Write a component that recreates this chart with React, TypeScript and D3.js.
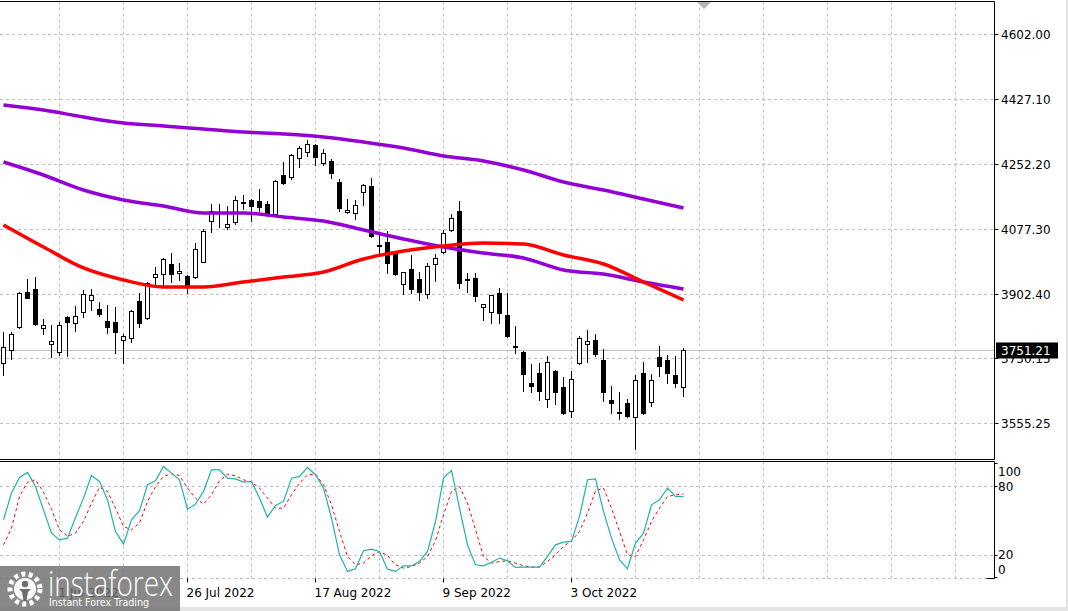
import React from "react";
import * as d3 from "d3";

const W = 1068;
const H = 611;

// ---- OHLC (daily bars, index 0..85) ----
const opens = [3717.5,3752.5,3814.4,3908.6,3916.7,3811.7,3768.7,3747.1,3841.3,3825.2,3854.8,3887.1,3862.9,3830.6,3827.9,3779.4,3784.8,3884.4,3838.6,3948.9,3957.0,3983.9,3959.7,3951.6,3948.9,3989.3,4099.6,4123.8,4083.4,4096.9,4148.0,4156.1,4153.4,4145.4,4118.4,4223.4,4218.0,4269.1,4285.3,4304.1,4255.7,4261.1,4204.5,4123.8,4121.1,4177.6,4193.8,4035.0,4043.1,4013.5,3930.1,3970.5,3943.6,3903.2,3983.9,4016.2,4075.4,4126.5,3943.6,3946.3,3868.2,3854.8,3905.9,3846.7,3763.3,3747.1,3663.7,3690.6,3620.6,3696.0,3652.9,3588.3,3717.5,3768.7,3779.4,3725.6,3617.9,3585.6,3609.9,3572.2,3690.6,3612.6,3733.6,3725.6,3685.2,3652.9];
const highs = [3800.9,3800.9,3908.6,3943.6,3948.9,3835.9,3819.8,3827.9,3843.0,3870.9,3914.0,3916.7,3881.7,3873.6,3868.2,3795.6,3860.2,3905.9,3935.5,3975.8,3999.0,4013.5,3986.6,3954.0,4040.4,4078.1,4145.4,4145.4,4140.0,4166.9,4169.6,4158.8,4185.7,4153.4,4209.9,4258.4,4279.9,4301.4,4317.6,4306.0,4293.4,4266.4,4212.6,4158.8,4156.1,4199.2,4215.3,4067.3,4072.7,4016.2,3962.4,4008.1,3962.4,3986.6,4010.8,4075.4,4118.4,4153.4,3959.7,3959.7,3876.3,3901.0,3919.4,3905.9,3817.1,3749.0,3714.8,3717.5,3736.3,3698.0,3679.8,3696.0,3790.2,3806.3,3795.6,3755.2,3655.6,3639.5,3620.6,3685.2,3720.2,3687.9,3763.3,3739.0,3736.3,3757.9];
const lows = [3685.2,3728.3,3811.7,3892.5,3819.8,3795.6,3733.6,3739.0,3736.3,3803.6,3841.3,3860.2,3844.0,3798.3,3744.4,3717.5,3774.0,3814.4,3835.9,3922.1,3922.1,3935.5,3940.9,3905.9,3946.0,3988.0,4070.0,4083.4,4078.1,4091.5,4131.9,4099.6,4126.5,4113.0,4115.8,4199.2,4212.6,4244.9,4274.5,4250.3,4250.3,4215.3,4126.5,4122.0,4105.0,4142.7,4056.6,4013.5,3959.7,3955.0,3903.2,3905.9,3887.1,3892.5,3938.2,4014.0,4072.7,3919.4,3908.6,3884.4,3833.2,3825.2,3825.2,3788.0,3744.4,3642.2,3639.5,3617.9,3599.1,3607.2,3581.0,3572.2,3714.8,3720.2,3736.3,3615.2,3583.0,3566.8,3572.2,3486.1,3580.3,3601.8,3682.5,3663.7,3652.9,3628.7];
const closes = [3760.6,3795.6,3905.9,3892.5,3822.5,3819.8,3776.7,3819.8,3827.9,3844.0,3903.2,3900.5,3849.4,3814.4,3800.9,3790.2,3857.5,3825.2,3932.8,3957.0,3997.4,3957.0,3965.1,3922.1,4024.3,4072.7,4126.5,4121.1,4091.5,4156.1,4150.7,4140.0,4137.3,4115.8,4207.2,4201.9,4277.2,4296.0,4306.8,4271.8,4282.6,4228.8,4134.6,4129.2,4142.7,4196.5,4059.3,4032.3,3986.6,3957.0,3962.4,3916.7,3908.6,3978.5,4000.1,4067.3,4107.7,3932.8,3940.9,3897.8,3876.3,3900.5,3852.1,3790.2,3760.6,3687.9,3655.6,3642.2,3720.2,3639.5,3583.0,3674.5,3784.8,3776.7,3741.7,3639.5,3609.9,3583.0,3574.9,3671.8,3582.0,3671.8,3709.4,3690.6,3663.7,3751.21];

// ---- Moving averages, sampled at these bar indices ----
const maBars = [0,5,10,15,20,25,30,35,40,45,50,55,60,65,70,75,80,85];
const maSlow = [4411.8,4398.3,4379.5,4363.3,4355.3,4347.2,4339.1,4333.7,4325.7,4312.2,4296.1,4274.5,4261.1,4236.9,4204.6,4183.0,4158.8,4134.6];
const maMid = [4258.4,4223.4,4183.0,4156.1,4140.0,4121.1,4121.1,4110.4,4099.6,4075.4,4051.2,4029.6,4013.5,4000.1,3967.8,3957.0,3935.5,3916.7];
const maFast = [4088.9,4029.6,3973.2,3940.9,3922.1,3922.1,3935.5,3948.9,3962.4,3997.4,4018.9,4032.3,4040.4,4037.7,4008.1,3983.9,3935.5,3887.1];

// ---- Stochastic ----
const stochK = [50.9,74.3,88.0,92.4,80.1,59.6,39.2,33.3,34.8,52.9,69.9,89.8,84.5,68.4,40.6,29.5,50.9,58.8,81.6,85.1,97.7,91.8,86.0,60.2,64.6,75.7,94.7,94.7,87.4,86.8,83.9,84.5,69.9,53.2,63.5,67.0,87.4,88.9,96.8,90.4,78.7,52.3,20.2,5.6,7.9,23.7,25.1,23.1,7.6,5.6,10.5,10.5,14.3,23.1,49.4,87.4,94.2,61.1,28.9,11.4,10.5,13.7,17.3,14.9,9.1,9.4,9.4,9.4,18.7,28.9,31.3,31.9,53.8,86.0,86.8,58.2,34.8,15.8,7.9,30.4,39.2,64.0,68.4,78.7,71.3,71.3];
const stochD = [28.9,43.6,71.3,83.9,86.0,75.1,60.2,42.1,36.3,39.2,49.4,65.5,79.5,75.7,61.1,45.0,42.1,48.0,67.0,80.1,88.9,91.2,89.8,78.7,69.9,64.6,72.8,85.1,90.9,89.5,86.0,83.9,78.7,69.9,61.1,61.1,72.8,83.0,90.4,90.9,81.6,64.0,40.6,18.7,11.4,12.9,19.3,23.1,19.6,11.4,8.5,9.9,12.9,18.7,32.5,55.3,75.7,80.1,65.5,42.1,18.7,12.9,14.3,14.9,12.9,10.5,9.4,9.4,14.3,20.2,27.5,32.5,40.6,56.7,76.3,78.7,61.1,40.6,20.2,18.7,33.3,49.4,61.1,71.3,72.8,73.4];

// ---- Axes ----
const priceTicks = [4602.0, 4427.1, 4252.2, 4077.3, 3902.4, 3730.15, 3555.25];
const stochLevels = [80, 20];
const stochLabels = [100, 80, 20, 0];
const dateTickBars = [7, 23, 39, 55, 71];
const dateTickLabels = ["1 Jul 2022", "26 Jul 2022", "17 Aug 2022", "9 Sep 2022", "3 Oct 2022"];
const lastPrice = 3751.21;

const PLOT_R = 994.5;
const MAIN_T = 1.5, MAIN_B = 459.5;
const ST_T = 461.5, ST_B = 578.5;
const FONT = "DejaVu Sans, Verdana, sans-serif";

export default function App() {
  const x = d3.scaleLinear().domain([0, 85]).range([3.5, 683.5]);
  const y = d3.scaleLinear().domain([4602, 3902.4]).range([34.3, 294.3]);
  const ys = d3.scaleLinear().domain([0, 100]).range([577.8, 463.8]);
  const snap = (v: number) => Math.floor(v) + 0.5;

  const gridBars = d3.range(7, 120, 8);

  const maLine = d3
    .line<number>()
    .x((_, i) => x(maBars[i]))
    .y((d) => y(d))
    .curve(d3.curveMonotoneX);

  const stLine = d3
    .line<number>()
    .x((_, i) => x(i))
    .y((d) => ys(d));

  const dash = "3,3";
  const gridColor = "#c0c0c0";

  return (
    <div style={{ position: "fixed", left: 0, top: 0, width: W, height: H, background: "#fff" }}>
      <svg width={W} height={H} style={{ display: "block" }} fontFamily={FONT}>
        <rect x={0} y={0} width={W} height={H} fill="#ffffff" />
        {/* outer window edges */}
        <rect x={1066} y={0} width={2} height={H} fill="#e3e3e3" />
        <rect x={0} y={607} width={W} height={4} fill="#e3e3e3" />

        {/* ---------- grid ---------- */}
        <g stroke={gridColor} strokeDasharray={dash} strokeWidth={1}>
          {priceTicks.map((t) => (
            <line key={"h" + t} x1={0} x2={PLOT_R} y1={snap(y(t))} y2={snap(y(t))} />
          ))}
          {gridBars.map((b) => (
            <line key={"v" + b} x1={x(b)} x2={x(b)} y1={MAIN_T} y2={MAIN_B} />
          ))}
          {stochLevels.map((l) => (
            <line key={"sh" + l} x1={0} x2={PLOT_R} y1={snap(ys(l))} y2={snap(ys(l))} />
          ))}
          {gridBars.map((b) => (
            <line key={"sv" + b} x1={x(b)} x2={x(b)} y1={ST_T} y2={ST_B} />
          ))}
          <line x1={0} x2={PLOT_R} y1={ST_B} y2={ST_B} />
        </g>

        {/* current price line */}
        <line x1={0} x2={PLOT_R} y1={snap(y(lastPrice))} y2={snap(y(lastPrice))} stroke="#c0c0c0" strokeWidth={1} />

        {/* shift marker */}
        <path d="M697,2 L711,2 L704,9 Z" fill="#b4b4b4" />

        {/* ---------- candles ---------- */}
        <g>
          {opens.map((o, i) => {
            const c = closes[i];
            const cx = x(i);
            const bull = c >= o;
            const top = y(Math.max(o, c));
            const bot = y(Math.min(o, c));
            const t = Math.round(top) + 0.5;
            const h = Math.max(0, Math.round(bot) - Math.round(top));
            return (
              <g key={"c" + i}>
                <line x1={cx} x2={cx} y1={Math.round(y(highs[i]))} y2={Math.round(y(lows[i])) + 1} stroke="#000" strokeWidth={1} />
                <rect x={cx - 2} y={t} width={4} height={h} fill={bull ? "#fff" : "#000"} stroke="#000" strokeWidth={1} />
              </g>
            );
          })}
        </g>

        {/* ---------- moving averages ---------- */}
        <path d={maLine(maSlow) || ""} fill="none" stroke="#9400D3" strokeWidth={3.5} />
        <path d={maLine(maMid) || ""} fill="none" stroke="#9400D3" strokeWidth={3.5} />
        <path d={maLine(maFast) || ""} fill="none" stroke="#ff0000" strokeWidth={3.5} />

        {/* ---------- stochastic ---------- */}
        <path d={stLine(stochD) || ""} fill="none" stroke="#ff0000" strokeWidth={1} strokeDasharray="3,3" />
        <path d={stLine(stochK) || ""} fill="none" stroke="#20b2aa" strokeWidth={1.2} />

        {/* ---------- frames (no left edge) ---------- */}
        <g stroke="#000" strokeWidth={1} fill="none">
          <path d={`M0,${MAIN_T} H${PLOT_R} V${MAIN_B} H0`} />
          <path d={`M0,${ST_T} H${PLOT_R} V${ST_B}`} />
          <line x1={PLOT_R - 8} x2={PLOT_R} y1={ST_B} y2={ST_B} />
        </g>

        {/* ---------- price axis ---------- */}
        <g fontSize={12} fill="#000">
          {priceTicks.map((t) => (
            <g key={"pt" + t}>
              <line x1={PLOT_R} x2={PLOT_R + 4} y1={snap(y(t))} y2={snap(y(t))} stroke="#000" />
              <text x={1001} y={y(t)} dy="0.36em">
                {t.toFixed(2)}
              </text>
            </g>
          ))}
        </g>
        {/* last price tag */}
        <rect x={996} y={y(lastPrice) - 8} width={62} height={16} fill="#000" />
        <text x={1001} y={y(lastPrice)} dy="0.36em" fontSize={12} fill="#fff">
          {lastPrice.toFixed(2)}
        </text>

        {/* ---------- stochastic axis ---------- */}
        <g fontSize={12} fill="#000">
          {stochLabels.map((l) => {
            const yy = l === 100 ? ys(l) + 8 : l === 0 ? ys(l) - 8 : ys(l);
            return (
              <g key={"sl" + l}>
                <line x1={PLOT_R} x2={PLOT_R + 3} y1={snap(ys(l))} y2={snap(ys(l))} stroke="#000" />
                <text x={998} y={yy} dy="0.36em">
                  {l}
                </text>
              </g>
            );
          })}
        </g>

        {/* ---------- date axis ---------- */}
        <g fontSize={12} fill="#000">
          {dateTickBars.map((b, i) => (
            <g key={"d" + b}>
              <line x1={x(b)} x2={x(b)} y1={ST_B} y2={ST_B + 4} stroke="#000" />
              <text x={x(b) - 1} y={597}>
                {dateTickLabels[i]}
              </text>
            </g>
          ))}
        </g>

        {/* ---------- watermark logo ---------- */}
        <g>
          <rect x={0} y={566} width={180} height={45} fill="#6e6e6e" opacity={0.82} />
          <circle cx={25} cy={589} r={15} fill="none" stroke="#fff" strokeWidth={5} strokeDasharray="4,3.4" />
          <circle cx={25} cy={589} r={11} fill="#fff" />
          <circle cx={25} cy={584} r={3.2} fill="#6e6e6e" />
          <path d="M19,589 L31,589 L28,592 L26.5,601 L23.5,601 L22,592 Z" fill="#6e6e6e" />
          <text x={48} y={596} fontSize={34} fill="#fff" fontFamily="Open Sans, DejaVu Sans, sans-serif" fontWeight={300} textLength={125} lengthAdjust="spacingAndGlyphs">
            instaforex
          </text>
          <text x={49} y={606} fontSize={11} fill="#fff" fontFamily="DejaVu Sans, sans-serif" textLength={100} lengthAdjust="spacingAndGlyphs">
            Instant Forex Trading
          </text>
        </g>
      </svg>
    </div>
  );
}
